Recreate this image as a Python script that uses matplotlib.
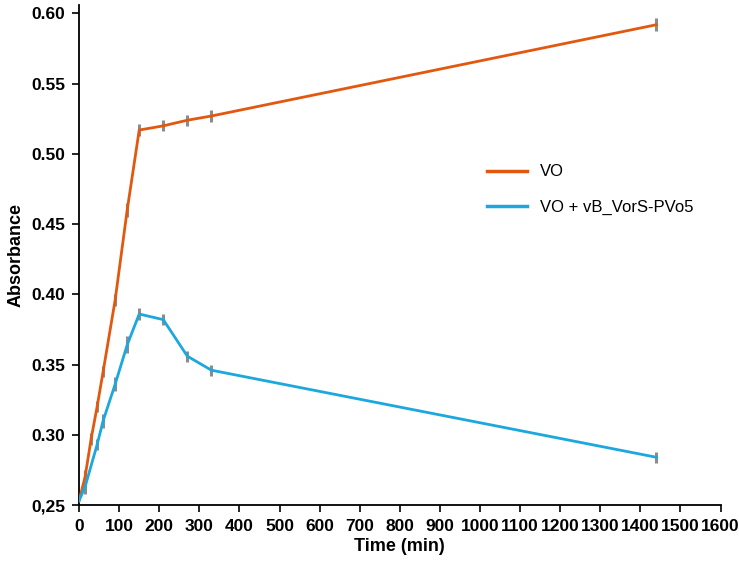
import matplotlib.pyplot as plt
from matplotlib.lines import Line2D

# time points (min) and absorbance readings
t_vo = [0, 15, 30, 45, 60, 90, 120, 150, 210, 270, 330, 1440]
abs_vo = [0.253, 0.270, 0.297, 0.320, 0.345, 0.396, 0.460, 0.517, 0.520, 0.524, 0.527, 0.592]
err_vo = [0.0, 0.005, 0.004, 0.004, 0.004, 0.004, 0.005, 0.004, 0.004, 0.004, 0.004, 0.0045]

t_mix = [0, 15, 45, 60, 90, 120, 150, 210, 270, 330, 1440]
abs_mix = [0.253, 0.263, 0.293, 0.310, 0.336, 0.364, 0.386, 0.382, 0.356, 0.346, 0.284]
err_mix = [0.0, 0.005, 0.004, 0.005, 0.005, 0.006, 0.004, 0.004, 0.004, 0.004, 0.004]

x_ticks = list(range(0, 1601, 100))
y_ticks = [0.25, 0.30, 0.35, 0.40, 0.45, 0.50, 0.55, 0.60]
y_labels = ['0,25', '0.30', '0.35', '0.40', '0.45', '0.50', '0.55', '0.60']

plt.rcParams['font.family'] = ['Liberation Sans', 'DejaVu Sans']

fig = plt.figure(figsize=(7.39, 5.63), dpi=100)
ax = fig.add_axes([0.107, 0.103, 0.868, 0.888])

orange = '#E2580F'
blue = '#1BA8DE'

ax.errorbar(t_vo, abs_vo, yerr=err_vo, color=orange, lw=2, ecolor='#8c8c8c',
            elinewidth=2.2, capsize=0, zorder=3)
ax.errorbar(t_mix, abs_mix, yerr=err_mix, color=blue, lw=2, ecolor='#8c8c8c',
            elinewidth=2.2, capsize=0, zorder=3)

ax.set_xlim(0, 1600)
ax.set_ylim(0.25, 0.606)
ax.set_xticks(x_ticks)
ax.set_xticklabels([str(v) for v in x_ticks], fontsize=12.5, fontweight='bold')
ax.set_yticks(y_ticks)
ax.set_yticklabels(y_labels, fontsize=12.5, fontweight='bold')
ax.tick_params(direction='out', length=5, width=1.2, colors='black', pad=5)

for side in ['top', 'right']:
    ax.spines[side].set_visible(False)
for side in ['left', 'bottom']:
    ax.spines[side].set_linewidth(1.3)

ax.set_xlabel('Time (min)', fontsize=13, fontweight='bold', labelpad=3)
ax.set_ylabel('Absorbance', fontsize=13, fontweight='bold', labelpad=5)

handles = [Line2D([], [], color=orange, lw=2.5), Line2D([], [], color=blue, lw=2.5)]
ax.legend(handles, ['VO', 'VO + vB_VorS-PVo5'], loc='upper left',
          bbox_to_anchor=(0.659, 0.708), bbox_transform=fig.transFigure,
          frameon=False, fontsize=12, handlelength=2.4, handletextpad=0.8,
          labelspacing=1.2, borderpad=0, borderaxespad=0)

fig.savefig('out.png', dpi=100)
